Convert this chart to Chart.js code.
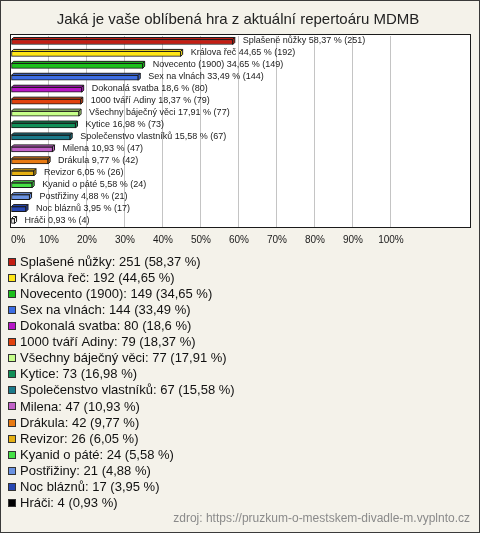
<!DOCTYPE html>
<html>
<head>
<meta charset="UTF-8">
<title>Jaká je vaše oblíbená hra</title>
<script src="https://cdn.jsdelivr.net/npm/chart.js@4/dist/chart.umd.min.js"></script>
<style>
  body { margin: 0; background: #fff; }
  #wrap { width: 480px; height: 533px; }
</style>
</head>
<body>
<div id="wrap"><canvas id="c" width="480" height="533"></canvas></div>
<script>
// data
var titleText = "Jaká je vaše oblíbená hra z aktuální repertoáru MDMB";
var sourceText = "zdroj: https://pruzkum-o-mestskem-divadle-m.vyplnto.cz";
var plays = ["Splašené nůžky", "Králova řeč", "Novecento (1900)", "Sex na vlnách",
  "Dokonalá svatba", "1000 tváří Adiny", "Všechny báječný věci", "Kytice",
  "Společenstvo vlastníků", "Milena", "Drákula", "Revizor", "Kyanid o páté",
  "Postřižiny", "Noc bláznů", "Hráči"];
var votes = [251, 192, 149, 144, 80, 79, 77, 73, 67, 47, 42, 26, 24, 21, 17, 4];
var percents = [58.37, 44.65, 34.65, 33.49, 18.6, 18.37, 17.91, 16.98, 15.58,
  10.93, 9.77, 6.05, 5.58, 4.88, 3.95, 0.93];
var colors = ["#c41e14", "#ffe617", "#1cc01c", "#3d6de3", "#b716c6", "#e2420e",
  "#c6ff8a", "#119058", "#1b7a8a", "#c262c8", "#e87a12", "#e6b012", "#45e045",
  "#6a92e2", "#2747b2", "#000000"];
var tickValues = [0, 10, 20, 30, 40, 50, 60, 70, 80, 90, 100];
var axisMax = 120.8;

function czNum(v) { return String(v).replace(".", ","); }

var DEPTH = 2;

// the last bar (Hráči) is drawn hollow in the original
function barFill(i) { return i === plays.length - 1 ? "#ffffff" : colors[i]; }

var decor = {
  id: "decor",
  beforeDraw: function (chart) {
    var ctx = chart.ctx, a = chart.chartArea;
    ctx.save();
    ctx.fillStyle = "#f4f2ea";
    ctx.fillRect(0, 0, chart.width, chart.height);
    ctx.fillStyle = "#ffffff";
    ctx.fillRect(a.left, a.top - 1, a.right - a.left, a.bottom - a.top + 1);
    ctx.restore();
  },
  afterDatasetsDraw: function (chart) {
    var ctx = chart.ctx;
    var meta = chart.getDatasetMeta(0);
    ctx.save();
    meta.data.forEach(function (bar, i) {
      var top = bar.y - bar.height / 2, bottom = bar.y + bar.height / 2;
      var base = bar.base, x = bar.x;
      ctx.fillStyle = barFill(i);
      ctx.strokeStyle = "#1a1a1a";
      ctx.lineWidth = 1;
      // top face
      ctx.beginPath();
      ctx.moveTo(base, top);
      ctx.lineTo(base + DEPTH, top - DEPTH);
      ctx.lineTo(x + DEPTH, top - DEPTH);
      ctx.lineTo(x, top);
      ctx.closePath();
      ctx.fill();
      ctx.stroke();
      // side face
      ctx.beginPath();
      ctx.moveTo(x, top);
      ctx.lineTo(x + DEPTH, top - DEPTH);
      ctx.lineTo(x + DEPTH, bottom - DEPTH);
      ctx.lineTo(x, bottom);
      ctx.closePath();
      ctx.fill();
      ctx.stroke();
      // value label
      ctx.fillStyle = "#1a1a1a";
      ctx.font = "9px 'Liberation Sans', Arial, sans-serif";
      ctx.textBaseline = "middle";
      ctx.textAlign = "left";
      ctx.fillText(plays[i] + " " + czNum(percents[i]) + " % (" + votes[i] + ")",
        x + DEPTH + 8, bar.y - 1);
    });
    ctx.restore();
  },
  afterDraw: function (chart) {
    var ctx = chart.ctx, a = chart.chartArea;
    ctx.save();
    // plot frame
    ctx.strokeStyle = "#1a1a1a";
    ctx.lineWidth = 1;
    ctx.strokeRect(Math.round(a.left) - 0.5, Math.round(a.top) - 1.5,
      Math.round(a.right - a.left) + 1, Math.round(a.bottom - a.top) + 2);
    // title
    ctx.fillStyle = "#222222";
    ctx.font = "15px 'Liberation Sans', Arial, sans-serif";
    ctx.textAlign = "center";
    ctx.textBaseline = "middle";
    ctx.fillText(titleText, 238, 20);
    // legend
    ctx.textAlign = "left";
    ctx.font = "13px 'Liberation Sans', Arial, sans-serif";
    plays.forEach(function (name, i) {
      var y = 262 + i * 16.05;
      ctx.fillStyle = colors[i];
      ctx.fillRect(8, Math.round(y) - 4, 8, 8);
      ctx.strokeStyle = "#333333";
      ctx.strokeRect(8.5, Math.round(y) - 3.5, 7, 7);
      ctx.fillStyle = "#111111";
      ctx.fillText(name + ": " + votes[i] + " (" + czNum(percents[i]) + " %)", 20, y + 0.5);
    });
    // source
    ctx.fillStyle = "#8a8a8a";
    ctx.font = "12px 'Liberation Sans', Arial, sans-serif";
    ctx.textAlign = "right";
    ctx.fillText(sourceText, 470, 519);
    // outer border
    ctx.strokeStyle = "#3a3a3a";
    ctx.strokeRect(0.5, 0.5, chart.width - 1, chart.height - 1);
    ctx.restore();
  }
};

new Chart(document.getElementById("c"), {
  type: "bar",
  data: {
    labels: plays,
    datasets: [{
      data: percents,
      backgroundColor: plays.map(function (p, i) { return barFill(i); }),
      borderColor: "#1a1a1a",
      borderWidth: 1,
      borderSkipped: false,
      barThickness: 5
    }]
  },
  options: {
    indexAxis: "y",
    responsive: false,
    animation: false,
    events: [],
    layout: { padding: { left: 11, top: 36, right: 10, bottom: 282 } },
    plugins: { legend: { display: false }, title: { display: false }, tooltip: { enabled: false } },
    scales: {
      x: {
        min: 0,
        max: axisMax,
        afterFit: function (s) { s.height = 24; },
        afterBuildTicks: function (s) {
          s.ticks = tickValues.concat([axisMax]).map(function (v) { return { value: v }; });
        },
        ticks: {
          padding: 7,
          align: "inner",
          color: "#1a1a1a",
          font: { family: "'Liberation Sans', Arial, sans-serif", size: 10 },
          callback: function (v) { return v <= 100 ? v + "%" : ""; }
        },
        grid: {
          drawTicks: false,
          color: function (c) {
            return c.tick && c.tick.value > 0 && c.tick.value <= 100 ? "#c4c4c4" : "rgba(0,0,0,0)";
          }
        },
        border: { display: false }
      },
      y: {
        display: false,
        offset: true
      }
    }
  },
  plugins: [decor]
});
</script>
</body>
</html>
